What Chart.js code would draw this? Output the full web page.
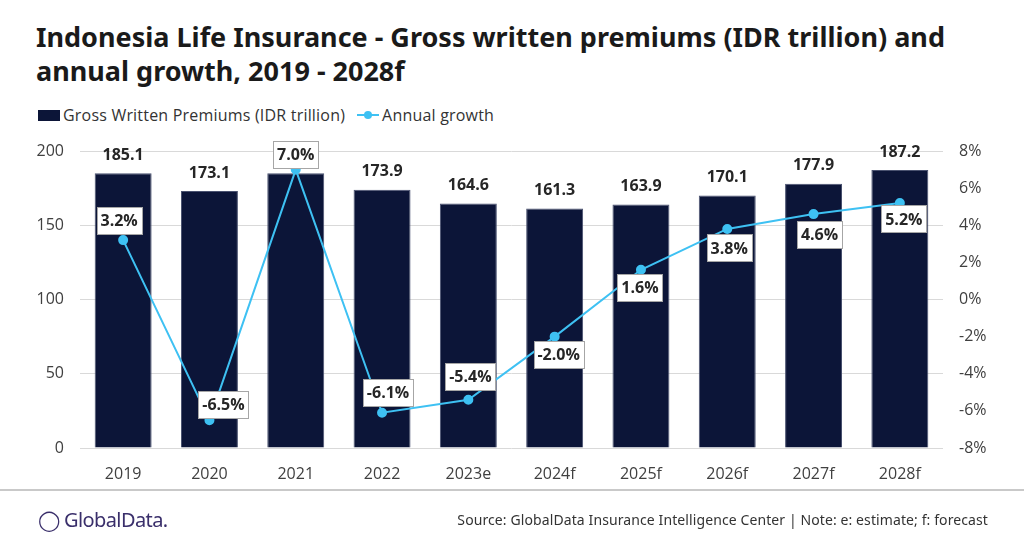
<!DOCTYPE html>
<html>
<head>
<meta charset="utf-8">
<script src="https://cdn.jsdelivr.net/npm/chart.js@4/dist/chart.umd.min.js"></script>
<style>
  body { margin: 0; width: 1024px; height: 549px; background: #fff; overflow: hidden; position: relative; font-family: "Open Sans", sans-serif; }
  .title { position: absolute; left: 36px; top: 20px; font: bold 27px "Noto Sans", sans-serif; color: #1a1a1a; line-height: 34px; }
  .legend { position: absolute; left: 38px; top: 104px; font: 16px "Open Sans", sans-serif; color: #333; display: flex; align-items: center; letter-spacing: 0.2px; }
  .legend .sq { width: 22px; height: 11px; background: #0c1538; margin-right: 3px; }
  .legend .ln { position: relative; width: 22px; height: 2px; background: #3ec1f3; margin: 0 3px 0 12px; }
  .legend .ln::after { content: ""; position: absolute; left: 7px; top: -3px; width: 8px; height: 8px; border-radius: 50%; background: #3ec1f3; }
  .rule { position: absolute; left: 0; top: 489px; width: 1024px; height: 2px; background: #c9c9c9; }
  .logo { position: absolute; left: 38px; top: 506px; font: 20px "Noto Sans", sans-serif; color: #3a2f6b; letter-spacing: -0.6px; }
  .source { position: absolute; right: 36px; top: 510px; font: 14px "Noto Sans", sans-serif; color: #333; letter-spacing: 0.1px; }
  canvas { position: absolute; left: 0; top: 0; }
</style>
</head>
<body>
<div class="title">Indonesia Life Insurance - Gross written premiums (IDR trillion) and<br>annual growth, 2019 - 2028f</div>
<div class="legend"><span class="sq"></span>Gross Written Premiums (IDR trillion)<span class="ln"></span>Annual growth</div>
<canvas id="chart" width="1024" height="549"></canvas>
<div class="rule"></div>
<div class="logo">&#9711; GlobalData.</div>
<div class="source">Source: GlobalData Insurance Intelligence Center | Note: e: estimate; f: forecast</div>
<script>
const years = [`2019`, `2020`, `2021`, `2022`, `2023e`, `2024f`, `2025f`, `2026f`, `2027f`, `2028f`];
const premiums = [185.1, 173.1, 185.1, 173.9, 164.6, 161.3, 163.9, 170.1, 177.9, 187.2];
const growth = [3.2, -6.5, 7.0, -6.1, -5.4, -2.0, 1.6, 3.8, 4.6, 5.2];
const premiumTicks = [0, 50, 100, 150, 200];
const growthTicks = [-8, -6, -4, -2, 0, 2, 4, 6, 8];

// where each growth label box sits relative to its point
const growthLabelOffsets = [[-4, -20], [14, -16], [0, -15], [6, -20], [2, -23], [4, 18], [-1, 18], [2, 19], [6, 20], [4, 16]];

const NAVY = `#0c1538`;
const BLUE = `#3ec1f3`;
const FONT = `"Open Sans", sans-serif`;

const labelsPlugin = {
  id: `labels`,
  afterDatasetsDraw(chart) {
    const ctx = chart.ctx;
    ctx.save();
    ctx.textAlign = `center`;
    ctx.textBaseline = `middle`;
    ctx.font = `bold 16px ${FONT}`;

    const bars = chart.getDatasetMeta(1).data;
    bars.forEach((bar, i) => {
      ctx.fillStyle = `#262626`;
      ctx.fillText(premiums[i].toFixed(1), bar.x, bar.y - 18);
    });

    const points = chart.getDatasetMeta(0).data;
    points.forEach((pt, i) => {
      const text = growth[i].toFixed(1) + `%`;
      const [dx, dy] = growthLabelOffsets[i];
      const cx = pt.x + dx;
      const cy = pt.y + dy;
      const w = Math.round(ctx.measureText(text).width + 8);
      const h = 27;
      const left = Math.round(cx - w / 2);
      const top = Math.round(cy - h / 2);
      ctx.fillStyle = `#fff`;
      ctx.fillRect(left, top, w, h);
      ctx.strokeStyle = `#a6a6a6`;
      ctx.lineWidth = 1;
      ctx.strokeRect(left + 0.5, top + 0.5, w, h);
      ctx.fillStyle = `#262626`;
      ctx.fillText(text, cx, cy + 1);
    });
    ctx.restore();
  }
};

new Chart(document.getElementById(`chart`), {
  type: `bar`,
  data: {
    labels: years,
    datasets: [
      {
        type: `line`,
        label: `Annual growth`,
        data: growth,
        yAxisID: `y1`,
        borderColor: BLUE,
        backgroundColor: BLUE,
        borderWidth: 2,
        pointRadius: 4,
        pointHoverRadius: 4,
        order: 0
      },
      {
        label: `Gross Written Premiums (IDR trillion)`,
        data: premiums,
        yAxisID: `y`,
        backgroundColor: NAVY,
        borderColor: `#4a5270`,
        borderWidth: 1,
        barPercentage: 0.66,
        categoryPercentage: 1,
        order: 1
      }
    ]
  },
  options: {
    responsive: false,
    animation: false,
    layout: {padding: {top: 151, left: 0, right: 0, bottom: 0}},
    plugins: {legend: {display: false}, tooltip: {enabled: false}},
    scales: {
      x: {
        grid: {display: false},
        border: {display: false},
        ticks: {color: `#404040`, font: {size: 16, family: FONT}, padding: 9},
        afterFit: (scale) => { scale.height = 101; }
      },
      y: {
        position: `left`,
        min: premiumTicks[0],
        max: premiumTicks[premiumTicks.length - 1],
        afterBuildTicks: (scale) => { scale.ticks = premiumTicks.map((v) => ({value: v})); },
        grid: {color: `#d9d9d9`, drawTicks: false},
        border: {display: false},
        ticks: {color: `#404040`, font: {size: 16, family: FONT}, padding: 16},
        afterFit: (scale) => { scale.width = 80; }
      },
      y1: {
        position: `right`,
        min: growthTicks[0],
        max: growthTicks[growthTicks.length - 1],
        afterBuildTicks: (scale) => { scale.ticks = growthTicks.map((v) => ({value: v})); },
        grid: {display: false, drawTicks: false},
        border: {display: false},
        ticks: {color: `#404040`, font: {size: 16, family: FONT}, padding: 16, callback: (v) => v + `%`},
        afterFit: (scale) => { scale.width = 81; }
      }
    }
  },
  plugins: [labelsPlugin]
});
</script>
</body>
</html>
